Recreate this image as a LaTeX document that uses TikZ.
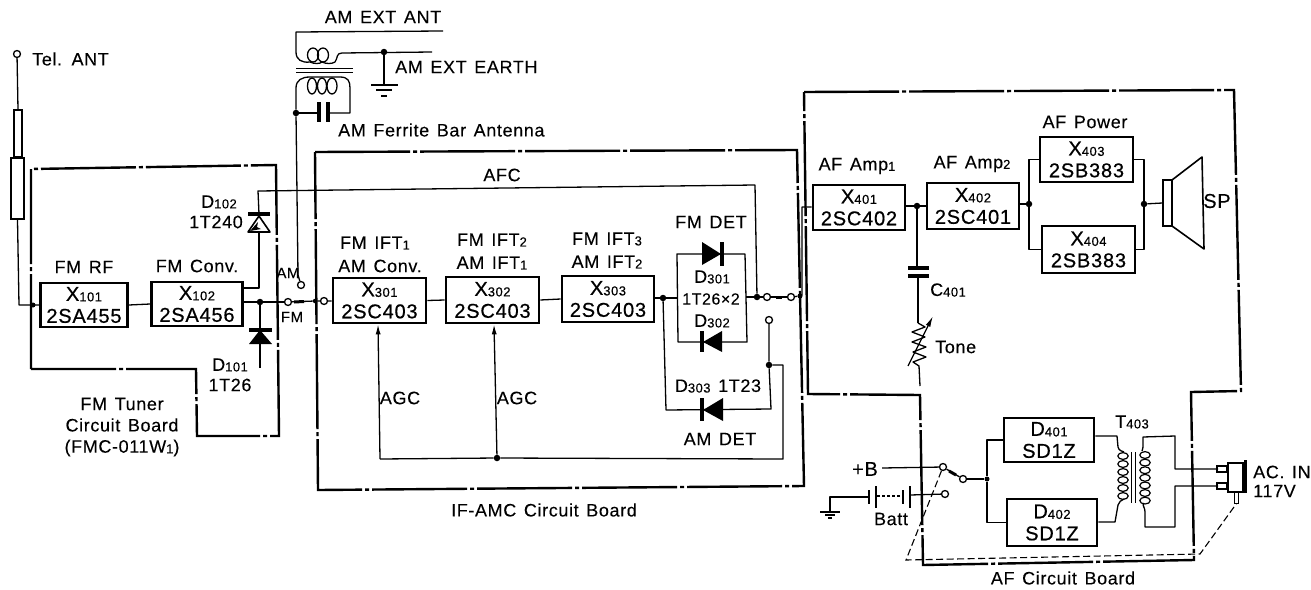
\documentclass[tikz,border=0pt]{standalone}
\usepackage{fontspec}
\setmainfont[LetterSpace=3.5,WordSpace=1.35,FakeBold=0.15]{Liberation Sans}
\newfontfamily\boxfont[LetterSpace=4,WordSpace=1.35,FakeBold=0.6]{Liberation Sans}
\usetikzlibrary{arrows.meta,calc}
\newcommand{\lowsub}[1]{{\fontsize{13}{13}\selectfont\raisebox{-0.6pt}{#1}}}
\tikzset{
  x=1pt,y=-1pt,
  wire/.style={line width=1.3pt,line join=round},
  board/.style={line width=2.4pt,line join=miter,dash pattern=on 95pt off 3pt on 4pt off 3pt},
  xbox/.style={draw,line width=2.6pt,rectangle,align=center,inner sep=0pt,font=\boxfont\fontsize{20}{22}\selectfont},
  lab/.style={inner sep=0pt,font=\fontsize{18}{22}\selectfont,align=center},
  labl/.style={lab,anchor=west},
  term/.style={circle,draw,line width=1.3pt,fill=white,inner sep=0pt,minimum size=7pt},
  jdot/.style={circle,fill=black,inner sep=0pt,minimum size=6.5pt},
  plate/.style={line width=3.4pt},
  coilturn/.style={line width=1.2pt,x radius=5.2,y radius=3.4},
  dashln/.style={line width=1.1pt,dash pattern=on 7pt off 3.5pt}
}
\begin{document}
\begin{tikzpicture}
\useasboundingbox (0,0) rectangle (1311,589);
% circuit boards
\draw[board] (31,369) -- (31,169) -- (276,165) -- (279,436) -- (197,436) -- (196,369) -- cycle;
\draw[board] (315,152) -- (797,150) -- (804,486) -- (318,490) -- cycle;
\draw[board] (804,92) -- (1234,90) -- (1241,391) -- (1191,392) -- (1194,560) -- (923,565) -- (920,395) -- (808,394) -- cycle;
% amplifier boxes
\node[xbox,minimum width=87pt,minimum height=44pt] (x101) at (84,305) {X\lowsub{101}\\2SA455};
\node[xbox,minimum width=91pt,minimum height=44pt] (x102) at (197,304) {X\lowsub{102}\\2SA456};
\node[xbox,minimum width=93pt,minimum height=45pt] (x301) at (379.5,300.5) {X\lowsub{301}\\2SC403};
\node[xbox,minimum width=93pt,minimum height=46pt] (x302) at (492.5,300) {X\lowsub{302}\\2SC403};
\node[xbox,minimum width=92pt,minimum height=46pt] (x303) at (608,299) {X\lowsub{303}\\2SC403};
\node[xbox,minimum width=92pt,minimum height=45pt] (x401) at (859,207.5) {X\lowsub{401}\\2SC402};
\node[xbox,minimum width=92pt,minimum height=46pt] (x402) at (973,206) {X\lowsub{402}\\2SC401};
\node[xbox,minimum width=93pt,minimum height=45pt] (x403) at (1086.5,159.5) {X\lowsub{403}\\2SB383};
\node[xbox,minimum width=93pt,minimum height=47pt] (x404) at (1088.5,249.5) {X\lowsub{404}\\2SB383};
\node[xbox,minimum width=90pt,minimum height=44pt] (d401) at (1049,440) {D\lowsub{401}\\SD1Z};
\node[xbox,minimum width=90pt,minimum height=47pt] (d402) at (1052,522.5) {D\lowsub{402}\\SD1Z};
% terminals and junctions
\node[term] (tant) at (17,54) {};
\node[term] (tfm) at (288,302) {};
\node[term] (tam) at (301,285) {};
\node[term] (tif) at (324,301) {};
\node[term] (tdeta) at (767,297) {};
\node[term] (tdetb) at (791,297) {};
\node[term] (tamdet) at (769,320) {};
\node[term] (tb) at (943,467) {};
\node[term] (tsw) at (963,479) {};
\node[term] (tbat) at (945,494) {};
\node[jdot] (jearth) at (384,52) {};
\node[jdot] (jcap) at (296,113) {};
\node[jdot] (jfm) at (260,302) {};
\node[jdot,minimum size=4.5pt] (jif) at (315,301) {};
\node[jdot,minimum size=5pt] (jrf) at (33,305) {};
\node[jdot] (jx303) at (663,298) {};
\node[jdot] (jafc) at (757,297) {};
\node[jdot,minimum size=5pt] (jout) at (800,296) {};
\node[jdot] (jam) at (769,365) {};
\node[jdot] (jagc) at (497,458) {};
\node[jdot] (jaf) at (917,206) {};
\node[jdot] (jpa) at (1029,204) {};
\node[jdot] (jpb) at (1144,204) {};
\node[jdot,minimum size=5pt] (jps) at (987,479) {};
% telescopic antenna
\node[draw,line width=1.4pt,inner sep=0pt,minimum width=8pt,minimum height=47pt] (rodA) at (18,133.5) {};
\node[draw,line width=1.8pt,inner sep=0pt,minimum width=13pt,minimum height=61pt] (rodB) at (17.5,188.5) {};
\draw[wire] (tant) -- (rodA.north);
\draw[wire] (rodB.south) -- (19,305) -- (x101.west |- 0,305);
% FM RF chain
\draw[wire] (x101.east) -- (x102.west);
\draw[wire] (x102.east |- jfm) -- (jfm) -- (tfm);
\draw[line width=3pt] (294,302) -- (304,301.5);
\draw[wire] (tfm) -- (jif) -- (tif) -- (tif -| x301.west);
\draw[wire] (x301.east) -- (x302.west);
\draw[wire] (x302.east) -- (x303.west);
\draw[wire] (x303.east |- jx303) -- (jx303);
% D101
\coordinate (d101e) at (260,368);
\draw[wire] (jfm) -- (d101e);
\draw[plate] (249,330) -- (272,330);
\fill (260,330) -- (272,344) -- (249,344) -- cycle;
% D102 and AFC
\coordinate (afcl) at (258,191);
\coordinate (afcr) at (755,185);
\coordinate (d102o) at (259,288);
\draw[wire] (jafc) -- (afcr) -- (afcl) -- (259,214);
\draw[wire] (259,232) -- (d102o) -- (x102.east |- d102o);
\draw[plate] (248,214) -- (270,214);
\draw[line width=1.6pt,line join=round] (259,216) -- (270,232) -- (248,232) -- cycle;
\fill (250,231) -- (258,222) -- (257,227) -- (261,229) -- cycle;
% AM antenna
\coordinate (extl) at (296,32);
\coordinate (extr) at (443,31);
\coordinate (eend) at (432,52);
\coordinate (gnda) at (384,85);
\draw[wire] (extr) -- (extl) -- (296,52) .. controls (296,60) and (302,63) .. (310,62)
  .. controls (314,64) and (320,64) .. (322,62) .. controls (326,64) and (332,64) .. (335,62)
  .. controls (338,58) and (336,53) .. (342,53) -- (eend);
\draw[wire] (313,55) ellipse [x radius=5.5,y radius=7];
\draw[wire] (323,55) ellipse [x radius=5.5,y radius=7];
\draw[line width=1pt] (296,68) -- (353,68) (296,72) -- (353,72);
\draw[wire] (jearth) -- (gnda);
\draw[line width=1.8pt] (371,85) -- (398,85);
\draw[line width=1.3pt] (376,90) -- (392,90) (381,96) -- (387,96);
\draw[wire] (jcap) -- (296,88) .. controls (296,80) and (302,77) .. (310,77)
  -- (340,77) .. controls (348,77) and (350,81) .. (350,88) -- (350,113) -- (328,113);
\draw[wire] (312,86) ellipse [x radius=4.5,y radius=8];
\draw[wire] (322,86) ellipse [x radius=4.5,y radius=8];
\draw[wire] (332,86) ellipse [x radius=5,y radius=8];
\draw[wire] (jcap) -- (319,113);
\draw[plate] (319,102) -- (319,122) (328,102) -- (328,122);
\draw[wire] (jcap) -- (298,275) -- (tam);
% D301/D302 loop
\coordinate (dtl) at (677,254); \coordinate (dtr) at (745,254);
\coordinate (dbl) at (678,342); \coordinate (dbr) at (747,342);
\draw[wire] (dtl) -- (dtr) -- (dbr) -- (dbl) -- cycle;
\draw[wire] (jx303) -- (677.5,298);
\draw[wire] (746,297) -- (jafc) -- (tdeta);
\draw[wire] (tdeta) -- (tdetb);
\draw[line width=3pt] (776,297) -- (782,297);
\draw[wire] (tdetb) -- (jout) -- (802,295) -- (802,207) -- (x401.west |- 0,207);
\fill (702,242) -- (721,254) -- (702,265) -- cycle;
\draw[plate] (722,242) -- (722,266);
\fill (722,331) -- (703,342) -- (722,352) -- cycle;
\draw[plate] (702,331) -- (702,352);
% D303
\coordinate (d3l) at (666,410);
\coordinate (d3r) at (771,409);
\draw[wire] (jx303) -- (d3l) -- (d3r) -- (jam) -- (tamdet);
\fill (723,398) -- (703,410) -- (723,421) -- cycle;
\draw[plate] (702,398) -- (702,421);
% AGC
\coordinate (agcr) at (783,365);
\coordinate (agcb) at (783,459);
\coordinate (agcl) at (380,459);
\draw[wire] (jam) -- (agcr) -- (agcb) -- (jagc) -- (agcl);
\draw[wire,-{Latex[length=10pt,width=5pt]}] (agcl) -- (x301.south -| 378,0);
\draw[wire,-{Latex[length=10pt,width=5pt]}] (jagc) -- (x302.south -| 494,0);
% AF amps
\draw[wire] (x401.east |- jaf) -- (jaf) -- (x402.west |- jaf);
\draw[wire] (x402.east |- jpa) -- (jpa);
\draw[wire] (x403.west) -| (jpa) |- (x404.west);
\draw[wire] (x403.east) -| (jpb) |- (x404.east);
% speaker
\node[draw,line width=1.4pt,inner sep=0pt,minimum width=9pt,minimum height=46pt] (spk) at (1167.5,203) {};
\draw[wire] (jpb) -- (spk.west);
\draw[line width=1.6pt,line join=round] (1172,180) -- (1202,157) -- (1204,249) -- (1172,226);
% tone
\coordinate (capa) at (917,268);
\coordinate (capb) at (918,276);
\coordinate (tonet) at (918,323);
\coordinate (toneb) at (920,386);
\draw[wire] (jaf) -- (capa);
\draw[plate] (908,268) -- (929,268) (908,276) -- (929,276);
\draw[wire] (capb) -- (tonet);
\draw[wire] (tonet) -- (925,327) -- (912,332) -- (925,337) -- (912,342) -- (926,347) -- (913,352) -- (926,357) -- (913,362) -- (919,366) -- (toneb);
\draw[wire,-{Latex[length=11pt,width=5pt]}] (908,366) -- (933,316);
% power input
\coordinate (bstart) at (882,468);
\draw[wire] (bstart) -- (tb);
\draw[wire] (tb) -- (tsw);
\draw[line width=3pt] (949,471) -- (956,475);
\draw[wire] (tsw) -- (jps);
\draw[wire] (d401.west) -| (jps) |- (d402.west);
% battery
\coordinate (gb) at (830,497);
\coordinate (gc) at (830,511);
\draw[wire] (gc) -- (gb) -- (869,497);
\draw[line width=2.6pt] (869,490) -- (869,504) (903,490) -- (903,504);
\draw[wire] (876,486) -- (876,508) (910,486) -- (910,508);
\draw[line width=1.1pt,dash pattern=on 3pt off 2pt] (877,496) -- (903,496);
\draw[wire] (910,495) -- (tbat);
\draw[line width=1.8pt] (820,512) -- (840,512);
\draw[line width=1.3pt] (825,515) -- (835,515) (828,518) -- (832,518);
% transformer
\draw[wire] (d401.east |- 0,436) -- (1117,436) -- (1118,447) .. controls (1119,451) and (1122,451) .. (1124,452);
\foreach \k in {0,...,5} \draw[coilturn] (1123,{456+\k*8}) ellipse [];
\draw[wire] (1124,499) .. controls (1121,500) and (1119,502) .. (1118,505) -- (1115,522) -- (d402.east |- 0,522);
\draw[line width=1pt] (1131,452) -- (1131,503) (1135,452) -- (1135,503);
\draw[wire] (1218,469) -- (1175,469) -- (1175,436) -- (1143,437) -- (1143,447) .. controls (1143,449) and (1142,450) .. (1142,451);
\foreach \k in {0,...,6} \draw[coilturn] (1145,{455+\k*7.6}) ellipse [];
\draw[wire] (1143,503) .. controls (1143,507) and (1145,508) .. (1145,512) -- (1145,527) -- (1175,527) -- (1175,486) -- (1218,486);
% AC plug
\node[draw,line width=1.4pt,inner sep=0pt,minimum width=10pt,minimum height=6pt] (pina) at (1222,469) {};
\node[draw,line width=1.4pt,inner sep=0pt,minimum width=10pt,minimum height=6pt] (pinb) at (1222,486) {};
\node[draw,line width=1.4pt,inner sep=0pt,minimum width=15pt,minimum height=29pt] (plug) at (1235.5,477.5) {};
\draw[line width=3pt] (1245,460) -- (1245,493);
\node[draw,line width=1pt,inner sep=0pt,minimum width=3.5pt,minimum height=11pt] (pinc) at (1236.5,497.5) {};
\draw[dashln] (tb) -- (906,560) -- (1200,554) -- (pinc.south);
% labels
\node[labl] (n1) at (32,59) {Tel. ANT};
\node[lab] (n2) at (383,17) {AM EXT ANT};
\node[labl] (n3) at (395,67) {AM EXT EARTH};
\node[labl] (n4) at (338,130) {AM Ferrite Bar Antenna};
\node[lab] (n5) at (84,267) {FM RF};
\node[lab] (n6) at (197,266) {FM Conv.};
\node[lab] (n7) at (219,202) {D\lowsub{102}};
\node[lab] (n8) at (216,222) {1T240};
\node[lab] (n9) at (230,365) {D\lowsub{101}};
\node[lab] (n10) at (230,385) {1T26};
\node[lab,font=\fontsize{15}{18}\selectfont] (n11) at (288,273) {AM};
\node[lab,font=\fontsize{15}{18}\selectfont] (n12) at (292,317) {FM};
\node[lab] (n13) at (375,243) {FM IFT\lowsub{1}};
\node[lab] (n14) at (380,266) {AM Conv.};
\node[lab] (n15) at (492,240) {FM IFT\lowsub{2}};
\node[lab] (n16) at (492,263) {AM IFT\lowsub{1}};
\node[lab] (n17) at (607,239) {FM IFT\lowsub{3}};
\node[lab] (n18) at (607,262) {AM IFT\lowsub{2}};
\node[lab] (n19) at (502,175) {AFC};
\node[lab] (n20) at (711,222) {FM DET};
\node[lab] (n21) at (712,277) {D\lowsub{301}};
\node[lab,font=\fontsize{16}{18}\selectfont] (n22) at (711,299) {1T26×2};
\node[lab] (n23) at (712,321) {D\lowsub{302}};
\node[lab] (n24) at (718,386) {D\lowsub{303} 1T23};
\node[lab] (n25) at (720,439) {AM DET};
\node[lab] (n26) at (400,398) {AGC};
\node[lab] (n27) at (517,398) {AGC};
\node[lab] (n28) at (122,404) {FM Tuner};
\node[lab] (n29) at (122,425) {Circuit Board};
\node[lab] (n30) at (122,448) {(FMC-011W\lowsub{1})};
\node[lab] (n31) at (544,510) {IF-AMC Circuit Board};
\node[lab] (n32) at (857,166) {AF Amp\lowsub{1}};
\node[lab] (n33) at (972,164) {AF Amp\lowsub{2}};
\node[lab] (n34) at (1085,122) {AF Power};
\node[lab,font=\fontsize{20}{22}\selectfont] (n35) at (1217,201) {SP};
\node[labl] (n36) at (930,290) {C\lowsub{401}};
\node[labl] (n37) at (935,347) {Tone};
\node[lab,font=\fontsize{20}{22}\selectfont] (n38) at (865,469) {+B};
\node[lab] (n39) at (891,519) {Batt};
\node[lab] (n40) at (1132,422) {T\lowsub{403}};
\node[labl] (n41) at (1253,472) {AC. IN};
\node[labl] (n42) at (1253,491) {117V};
\node[lab] (n43) at (1063,578) {AF Circuit Board};
\end{tikzpicture}
\end{document}
